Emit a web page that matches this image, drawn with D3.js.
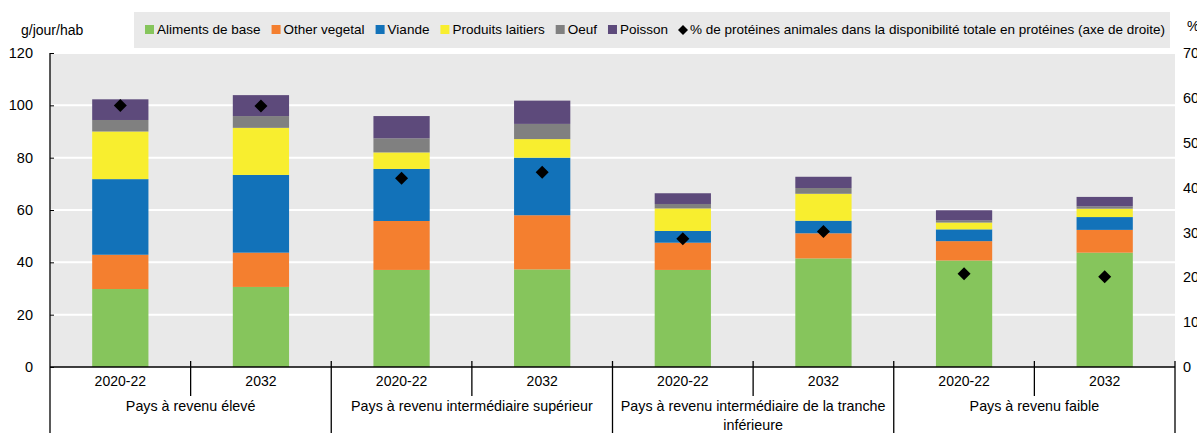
<!DOCTYPE html>
<html>
<head>
<meta charset="utf-8">
<script src="https://cdn.jsdelivr.net/npm/d3@7"></script>
<style>
  html, body { margin: 0; padding: 0; background: #fff; }
  svg { display: block; font-family: "Liberation Sans", Arial, sans-serif; }
</style>
</head>
<body>
<svg id="chart" width="1197" height="433"></svg>
<script>
// ---- data ----
const periods = ["2020-22", "2032", "2020-22", "2032", "2020-22", "2032", "2020-22", "2032"];
const groups = [
  ["Pays à revenu élevé"],
  ["Pays à revenu intermédiaire supérieur"],
  ["Pays à revenu intermédiaire de la tranche", "inférieure"],
  ["Pays à revenu faible"]
];
const seriesNames = ["Aliments de base", "Other vegetal", "Viande", "Produits laitiers", "Oeuf", "Poisson"];
const aliments = [29.8, 30.6, 37.1, 37.3, 37.1, 41.5, 40.7, 43.7];
const otherVegetal = [13.1, 13.1, 18.7, 20.7, 10.4, 9.6, 7.4, 8.7];
const viande = [28.9, 29.7, 19.9, 22.0, 4.5, 4.8, 4.5, 4.9];
const laitiers = [18.2, 18.0, 6.3, 7.1, 8.6, 10.3, 2.6, 3.2];
const oeuf = [4.4, 4.5, 5.4, 5.8, 1.7, 2.2, 0.8, 0.9];
const poisson = [7.9, 8.0, 8.5, 8.9, 4.1, 4.3, 3.9, 3.6];
const pctAnimal = [58.3, 58.2, 42.1, 43.4, 28.6, 30.2, 20.8, 20.1];
const pctName = "% de protéines animales dans la disponibilité totale en protéines (axe de droite)";
const leftTicks = [0, 20, 40, 60, 80, 100, 120];
const rightTicks = [0, 10, 20, 30, 40, 50, 60, 70];
const colors = ["#86c55c", "#f47f2f", "#1272b9", "#f8ee2f", "#808080", "#5d4a7b"];

// ---- layout ----
const svg = d3.select("#chart");
const L = 50, R = 1175, T = 53, B = 367;
const seriesValues = [aliments, otherVegetal, viande, laitiers, oeuf, poisson];

const idx = d3.range(periods.length);
const x = d3.scaleBand().domain(idx).range([L, R]).paddingInner(0.6).paddingOuter(0.3);
const y = d3.scaleLinear().domain([0, 120]).range([B, T]);
const y2 = d3.scaleLinear().domain([0, 70]).range([B, T]);

// background
svg.append("rect").attr("x", L).attr("y", T).attr("width", R - L).attr("height", B - T).attr("fill", "#e9e9e9");

// grid
svg.append("g").selectAll("line").data(leftTicks.filter(d => d > 0)).join("line")
  .attr("x1", L).attr("x2", R).attr("y1", d => y(d)).attr("y2", d => y(d))
  .attr("stroke", "#fff").attr("stroke-width", 2);

// stacked data
const rows = idx.map(i => {
  const o = { i };
  seriesNames.forEach((s, k) => o[s] = seriesValues[k][i]);
  return o;
});
const stack = d3.stack().keys(seriesNames)(rows);

svg.append("g").selectAll("g").data(stack).join("g")
  .attr("fill", (d, k) => colors[k])
  .selectAll("rect").data(d => d).join("rect")
  .attr("x", d => x(d.data.i))
  .attr("width", x.bandwidth())
  .attr("y", d => y(d[1]))
  .attr("height", d => y(d[0]) - y(d[1]));

// diamonds
const diamond = s => `M0,${-s}L${s},0L0,${s}L${-s},0Z`;
svg.append("g").selectAll("path").data(pctAnimal).join("path")
  .attr("d", diamond(6.5))
  .attr("transform", (d, i) => `translate(${x(i) + x.bandwidth() / 2},${y2(d)})`)
  .attr("fill", "#000");

// left axis
const leftAxis = d3.axisLeft(y).tickValues(leftTicks).tickSize(-4).tickPadding(17).tickFormat(d3.format("d"));
const gl = svg.append("g").attr("transform", `translate(${L},0)`).call(leftAxis);
gl.select(".domain").remove();
gl.selectAll(".tick line").attr("stroke", "#000");
gl.selectAll("text").attr("font-size", 14.5).attr("fill", "#000").attr("font-family", "Liberation Sans, Arial, sans-serif");
svg.append("line").attr("x1", L).attr("x2", L).attr("y1", T).attr("y2", 433).attr("stroke", "#000").attr("stroke-width", 1.3);

// right axis
const rightAxis = d3.axisRight(y2).tickValues(rightTicks).tickSize(0).tickPadding(8).tickFormat(d3.format("d"));
const gr = svg.append("g").attr("transform", `translate(${R},0)`).call(rightAxis);
gr.select(".domain").remove();
gr.selectAll("text").attr("font-size", 14.5).attr("fill", "#000").attr("font-family", "Liberation Sans, Arial, sans-serif");

// bottom axis line
svg.append("line").attr("x1", L).attr("x2", R).attr("y1", B).attr("y2", B).attr("stroke", "#000").attr("stroke-width", 1.3);

// category separators
const step = x.step();
const bounds = d3.range(periods.length + 1).map(i => L + i * step);
svg.append("g").selectAll("line").data(bounds.slice(1)).join("line")
  .attr("x1", d => d).attr("x2", d => d)
  .attr("y1", 361)
  .attr("y2", (d, i) => ((i + 1) % 2 === 0) ? 433 : 396)
  .attr("stroke", "#000").attr("stroke-width", 1.3);

// period labels
svg.append("g").selectAll("text").data(periods).join("text")
  .attr("x", (d, i) => x(i) + x.bandwidth() / 2)
  .attr("y", 382)
  .attr("text-anchor", "middle").attr("dominant-baseline", "middle")
  .attr("font-size", 14).text(d => d);

// group labels
const gg = svg.append("g").selectAll("text").data(groups).join("text")
  .attr("x", (d, i) => L + (i * 2 + 1) * step)
  .attr("y", 407)
  .attr("text-anchor", "middle").attr("dominant-baseline", "middle")
  .attr("font-size", 14.3);
gg.selectAll("tspan").data(d => d).join("tspan")
  .attr("x", function () { return this.parentNode.getAttribute("x"); })
  .attr("dy", (d, j) => j === 0 ? 0 : 19)
  .text(d => d);

// axis titles
svg.append("text").attr("x", 21).attr("y", 31).attr("dominant-baseline", "middle").attr("font-size", 14).text("g/jour/hab");
svg.append("text").attr("x", 1187).attr("y", 27).attr("dominant-baseline", "middle").attr("font-size", 14).text("%");

// legend
svg.append("rect").attr("x", 134).attr("y", 12).attr("width", 1036).attr("height", 36).attr("fill", "#e9e9e9");
const lg = svg.append("g");
let lx = 145;
const ly = 30;
seriesNames.forEach((s, k) => {
  lg.append("rect").attr("x", lx).attr("y", ly - 5).attr("width", 9).attr("height", 9).attr("fill", colors[k]);
  const t = lg.append("text").attr("x", lx + 12).attr("y", ly).attr("dominant-baseline", "middle").attr("font-size", 13.5).text(s);
  lx += 12 + t.node().getComputedTextLength() + 11;
});
lg.append("path").attr("d", diamond(5)).attr("transform", `translate(${lx + 4},${ly})`).attr("fill", "#000");
lg.append("text").attr("x", lx + 11).attr("y", ly).attr("dominant-baseline", "middle").attr("font-size", 13.5).text(pctName);
</script>
</body>
</html>
